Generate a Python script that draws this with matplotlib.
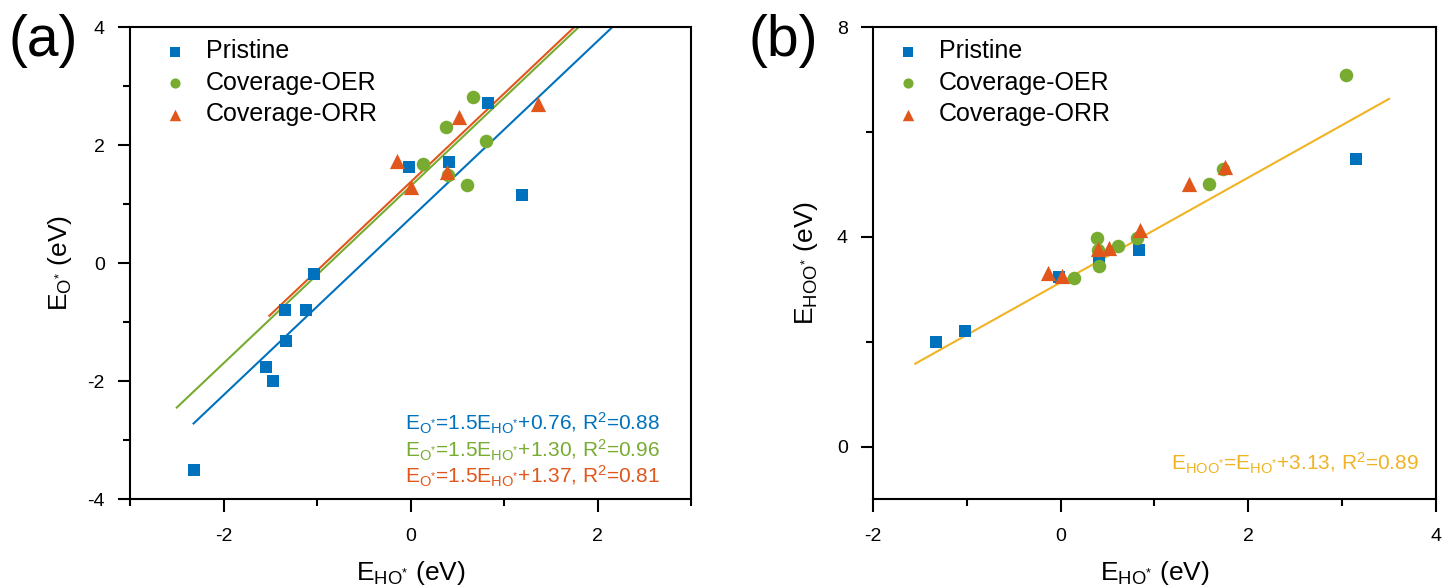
import numpy as np
import matplotlib
matplotlib.use("Agg")
import matplotlib.pyplot as plt
from matplotlib.ticker import MultipleLocator

plt.rcParams['font.family'] = ['Liberation Sans', 'DejaVu Sans']
plt.rcParams['mathtext.default'] = 'regular'
plt.rcParams['axes.unicode_minus'] = False

# colours
c_blue = '#0072bd'
c_green = '#77ac30'
c_orange = '#e0561b'
c_yellow = '#f0b323'

# panel (a): E_O* vs E_HO*
a_pristine_x = [-2.32, -1.55, -1.47, -1.33, -1.34, -1.12, -1.03, -0.02, 0.41, 0.83, 1.19]
a_pristine_y = [-3.51, -1.76, -2.00, -1.33, -0.80, -0.80, -0.18, 1.63, 1.72, 2.72, 1.15]
a_oer_x = [0.13, 0.38, 0.67, 0.81, 0.60, 0.40]
a_oer_y = [1.68, 2.31, 2.81, 2.06, 1.33, 1.50]
a_orr_x = [-0.14, 0.01, 0.39, 0.52, 1.36]
a_orr_y = [1.73, 1.28, 1.55, 2.48, 2.69]

# fitted lines in (a): slope, intercept, x range
a_fit_slope = [1.5, 1.5, 1.5]
a_fit_icpt = [0.76, 1.30, 1.37]
a_fit_xmin = [-2.32, -2.5, -1.51]
a_fit_xmax = [3.0, 3.0, 3.0]
a_fit_r2 = [0.88, 0.96, 0.81]

# panel (b): E_HOO* vs E_HO*
b_pristine_x = [-1.33, -1.02, -0.02, 0.41, 0.83, 3.15]
b_pristine_y = [2.00, 2.21, 3.24, 3.60, 3.75, 5.49]
b_oer_x = [0.14, 0.39, 0.40, 0.41, 0.61, 0.81, 1.58, 1.73, 3.04]
b_oer_y = [3.22, 3.98, 3.75, 3.44, 3.83, 3.98, 5.01, 5.30, 7.09]
b_orr_x = [-0.13, 0.01, 0.40, 0.52, 0.85, 1.37, 1.75]
b_orr_y = [3.30, 3.26, 3.76, 3.78, 4.12, 5.00, 5.33]

b_fit_slope = 1.0
b_fit_icpt = 3.13
b_fit_xmin = -1.55
b_fit_xmax = 3.5
b_fit_r2 = 0.89

labels = ['Pristine', 'Coverage-OER', 'Coverage-ORR']

fig = plt.figure(figsize=(14.42, 5.87), dpi=100)
ax1 = fig.add_axes([130 / 1442, 88 / 587, 561 / 1442, 472 / 587])
ax2 = fig.add_axes([873 / 1442, 88 / 587, 563 / 1442, 472 / 587])


def style_axis(ax):
    for s in ax.spines.values():
        s.set_linewidth(1.5)
    ax.tick_params(which='both', direction='out', top=False, right=False,
                   width=1.5, labelsize=14, pad=9)
    ax.tick_params(axis='x', which='both', pad=12)
    ax.tick_params(which='major', length=9)
    ax.tick_params(which='minor', length=5)


def scatter_sets(ax, px, py, ox, oy, rx, ry, leg_x):
    ax.scatter(px, py, marker='s', s=75, color=c_blue, label=labels[0], zorder=3, linewidths=0)
    ax.scatter(ox, oy, marker='o', s=95, color=c_green, label=labels[1], zorder=4, linewidths=0)
    ax.scatter(rx, ry, marker='^', s=120, color=c_orange, label=labels[2], zorder=5, linewidths=0)
    ax.legend(loc='upper left', bbox_to_anchor=(leg_x, 1.0), frameon=False, fontsize=18,
              handletextpad=0.75, labelspacing=0.3, handlelength=1.0, markerscale=0.75,
              borderaxespad=0.1)


# ---- panel (a)
fit_colors = [c_blue, c_green, c_orange]
for k in range(3):
    xs = np.linspace(a_fit_xmin[k], a_fit_xmax[k], 50)
    ax1.plot(xs, a_fit_slope[k] * xs + a_fit_icpt[k], color=fit_colors[k], lw=1.5, zorder=2)
scatter_sets(ax1, a_pristine_x, a_pristine_y, a_oer_x, a_oer_y, a_orr_x, a_orr_y, 0.035)
ax1.set_xlim(-3, 3)
ax1.set_ylim(-4, 4)
ax1.xaxis.set_major_locator(MultipleLocator(2))
ax1.xaxis.set_minor_locator(MultipleLocator(1))
ax1.yaxis.set_major_locator(MultipleLocator(2))
ax1.yaxis.set_minor_locator(MultipleLocator(1))
style_axis(ax1)
ax1.set_xlabel('E$_{HO^{*}}$ (eV)', fontsize=19, labelpad=10)
ax1.set_ylabel('E$_{O^{*}}$ (eV)', fontsize=19, labelpad=10)

for k in range(3):
    txt = 'E$_{O^{*}}$=%.1fE$_{HO^{*}}$+%.2f, R$^{2}$=%.2f' % (a_fit_slope[k], a_fit_icpt[k], a_fit_r2[k])
    ax1.text(0.945, 0.161 - k * 0.057, txt, transform=ax1.transAxes, ha='right', va='center',
             color=fit_colors[k], fontsize=15)

# ---- panel (b)
xs = np.linspace(b_fit_xmin, b_fit_xmax, 50)
ax2.plot(xs, b_fit_slope * xs + b_fit_icpt, color=c_yellow, lw=1.5, zorder=2)
scatter_sets(ax2, b_pristine_x, b_pristine_y, b_oer_x, b_oer_y, b_orr_x, b_orr_y, 0.017)
ax2.set_xlim(-2, 4)
ax2.set_ylim(-1, 8)
ax2.xaxis.set_major_locator(MultipleLocator(2))
ax2.xaxis.set_minor_locator(MultipleLocator(1))
ax2.yaxis.set_major_locator(MultipleLocator(4))
ax2.yaxis.set_minor_locator(MultipleLocator(2))
style_axis(ax2)
ax2.set_xlabel('E$_{HO^{*}}$ (eV)', fontsize=19, labelpad=10)
ax2.set_ylabel('E$_{HOO^{*}}$ (eV)', fontsize=19, labelpad=12)
ax2.text(0.97, 0.075, 'E$_{HOO^{*}}$=E$_{HO^{*}}$+%.2f, R$^{2}$=%.2f' % (b_fit_icpt, b_fit_r2),
         transform=ax2.transAxes, ha='right', va='center', color=c_yellow, fontsize=15)

fig.text(0.006, 0.93, '(a)', fontsize=41, va='center', ha='left')
fig.text(0.519, 0.93, '(b)', fontsize=41, va='center', ha='left')

fig.savefig('out.png', dpi=100)
